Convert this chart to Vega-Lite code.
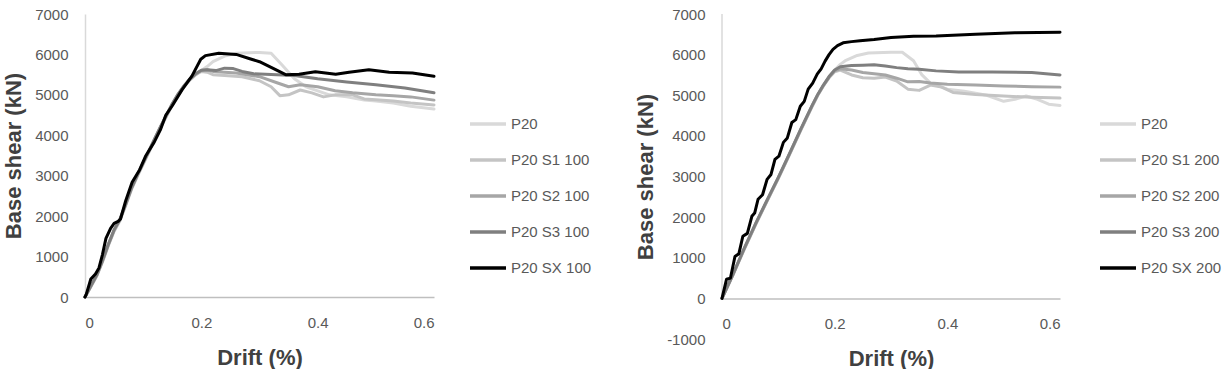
{
  "$schema": "https://vega.github.io/schema/vega-lite/v6.json",
  "background": "white",
  "padding": {"left": 2, "top": 7, "right": 0, "bottom": 0},
  "config": {
    "view": {"stroke": null},
    "font": "Liberation Sans",
    "concat": {"spacing": 42},
    "axis": {"grid": false, "ticks": false, "labelColor": "#595959", "labelFontSize": 15, "titleColor": "#404040", "titleFontSize": 22, "titleFontWeight": "bold", "domainWidth": 1.5},
    "axisX": {"domainColor": "#bfbfbf", "labelPadding": 18, "titlePadding": 17},
    "axisY": {"domainColor": "#d9d9d9", "labelPadding": 17, "titlePadding": 9},
    "legend": {"symbolType": "M-2,0H2", "symbolSize": 324, "symbolStrokeWidth": 3.5, "labelFontSize": 15, "labelColor": "#595959", "labelOffset": 12, "rowPadding": 17, "padding": 0}
  },
  "datasets": {
    "left": [
      {"series": "P20", "drift": 0, "shear": 0}, {"series": "P20", "drift": 0.01, "shear": 250}, {"series": "P20", "drift": 0.02, "shear": 510}, {"series": "P20", "drift": 0.03, "shear": 860}, {"series": "P20", "drift": 0.04, "shear": 1260}, {"series": "P20", "drift": 0.05, "shear": 1620}, {"series": "P20", "drift": 0.06, "shear": 1880}, {"series": "P20", "drift": 0.07, "shear": 2260}, {"series": "P20", "drift": 0.08, "shear": 2660}, {"series": "P20", "drift": 0.09, "shear": 2980}, {"series": "P20", "drift": 0.1, "shear": 3280}, {"series": "P20", "drift": 0.11, "shear": 3580}, {"series": "P20", "drift": 0.12, "shear": 3880}, {"series": "P20", "drift": 0.13, "shear": 4180}, {"series": "P20", "drift": 0.14, "shear": 4460}, {"series": "P20", "drift": 0.15, "shear": 4740}, {"series": "P20", "drift": 0.16, "shear": 4980}, {"series": "P20", "drift": 0.17, "shear": 5190}, {"series": "P20", "drift": 0.18, "shear": 5360}, {"series": "P20", "drift": 0.19, "shear": 5490}, {"series": "P20", "drift": 0.2, "shear": 5600}, {"series": "P20", "drift": 0.21, "shear": 5700}, {"series": "P20", "drift": 0.22, "shear": 5820}, {"series": "P20", "drift": 0.24, "shear": 5960}, {"series": "P20", "drift": 0.26, "shear": 6030}, {"series": "P20", "drift": 0.3, "shear": 6050}, {"series": "P20", "drift": 0.32, "shear": 6030}, {"series": "P20", "drift": 0.34, "shear": 5720}, {"series": "P20", "drift": 0.36, "shear": 5400}, {"series": "P20", "drift": 0.38, "shear": 5200}, {"series": "P20", "drift": 0.4, "shear": 5100}, {"series": "P20", "drift": 0.42, "shear": 5000}, {"series": "P20", "drift": 0.45, "shear": 4950}, {"series": "P20", "drift": 0.48, "shear": 4870}, {"series": "P20", "drift": 0.5, "shear": 4850}, {"series": "P20", "drift": 0.53, "shear": 4800}, {"series": "P20", "drift": 0.56, "shear": 4720}, {"series": "P20", "drift": 0.6, "shear": 4650},

      {"series": "P20 S1 100", "drift": 0, "shear": 0}, {"series": "P20 S1 100", "drift": 0.01, "shear": 260}, {"series": "P20 S1 100", "drift": 0.02, "shear": 520}, {"series": "P20 S1 100", "drift": 0.03, "shear": 880}, {"series": "P20 S1 100", "drift": 0.04, "shear": 1280}, {"series": "P20 S1 100", "drift": 0.05, "shear": 1640}, {"series": "P20 S1 100", "drift": 0.06, "shear": 1900}, {"series": "P20 S1 100", "drift": 0.07, "shear": 2280}, {"series": "P20 S1 100", "drift": 0.08, "shear": 2680}, {"series": "P20 S1 100", "drift": 0.09, "shear": 3000}, {"series": "P20 S1 100", "drift": 0.1, "shear": 3300}, {"series": "P20 S1 100", "drift": 0.11, "shear": 3600}, {"series": "P20 S1 100", "drift": 0.12, "shear": 3900}, {"series": "P20 S1 100", "drift": 0.13, "shear": 4200}, {"series": "P20 S1 100", "drift": 0.14, "shear": 4480}, {"series": "P20 S1 100", "drift": 0.15, "shear": 4760}, {"series": "P20 S1 100", "drift": 0.16, "shear": 5000}, {"series": "P20 S1 100", "drift": 0.17, "shear": 5200}, {"series": "P20 S1 100", "drift": 0.18, "shear": 5370}, {"series": "P20 S1 100", "drift": 0.19, "shear": 5500}, {"series": "P20 S1 100", "drift": 0.2, "shear": 5580}, {"series": "P20 S1 100", "drift": 0.21, "shear": 5560}, {"series": "P20 S1 100", "drift": 0.22, "shear": 5500}, {"series": "P20 S1 100", "drift": 0.24, "shear": 5480}, {"series": "P20 S1 100", "drift": 0.27, "shear": 5450}, {"series": "P20 S1 100", "drift": 0.3, "shear": 5350}, {"series": "P20 S1 100", "drift": 0.32, "shear": 5200}, {"series": "P20 S1 100", "drift": 0.335, "shear": 4980}, {"series": "P20 S1 100", "drift": 0.35, "shear": 5000}, {"series": "P20 S1 100", "drift": 0.37, "shear": 5120}, {"series": "P20 S1 100", "drift": 0.39, "shear": 5050}, {"series": "P20 S1 100", "drift": 0.41, "shear": 4950}, {"series": "P20 S1 100", "drift": 0.43, "shear": 5000}, {"series": "P20 S1 100", "drift": 0.46, "shear": 5000}, {"series": "P20 S1 100", "drift": 0.48, "shear": 4900}, {"series": "P20 S1 100", "drift": 0.5, "shear": 4880}, {"series": "P20 S1 100", "drift": 0.53, "shear": 4850}, {"series": "P20 S1 100", "drift": 0.56, "shear": 4800}, {"series": "P20 S1 100", "drift": 0.6, "shear": 4750},

      {"series": "P20 S2 100", "drift": 0, "shear": 0}, {"series": "P20 S2 100", "drift": 0.01, "shear": 270}, {"series": "P20 S2 100", "drift": 0.02, "shear": 530}, {"series": "P20 S2 100", "drift": 0.03, "shear": 890}, {"series": "P20 S2 100", "drift": 0.04, "shear": 1290}, {"series": "P20 S2 100", "drift": 0.05, "shear": 1650}, {"series": "P20 S2 100", "drift": 0.06, "shear": 1910}, {"series": "P20 S2 100", "drift": 0.07, "shear": 2290}, {"series": "P20 S2 100", "drift": 0.08, "shear": 2690}, {"series": "P20 S2 100", "drift": 0.09, "shear": 3010}, {"series": "P20 S2 100", "drift": 0.1, "shear": 3310}, {"series": "P20 S2 100", "drift": 0.11, "shear": 3610}, {"series": "P20 S2 100", "drift": 0.12, "shear": 3910}, {"series": "P20 S2 100", "drift": 0.13, "shear": 4210}, {"series": "P20 S2 100", "drift": 0.14, "shear": 4490}, {"series": "P20 S2 100", "drift": 0.15, "shear": 4770}, {"series": "P20 S2 100", "drift": 0.16, "shear": 5010}, {"series": "P20 S2 100", "drift": 0.17, "shear": 5210}, {"series": "P20 S2 100", "drift": 0.18, "shear": 5380}, {"series": "P20 S2 100", "drift": 0.19, "shear": 5510}, {"series": "P20 S2 100", "drift": 0.2, "shear": 5600}, {"series": "P20 S2 100", "drift": 0.21, "shear": 5620}, {"series": "P20 S2 100", "drift": 0.22, "shear": 5580}, {"series": "P20 S2 100", "drift": 0.24, "shear": 5560}, {"series": "P20 S2 100", "drift": 0.26, "shear": 5540}, {"series": "P20 S2 100", "drift": 0.3, "shear": 5450}, {"series": "P20 S2 100", "drift": 0.33, "shear": 5300}, {"series": "P20 S2 100", "drift": 0.35, "shear": 5200}, {"series": "P20 S2 100", "drift": 0.37, "shear": 5250}, {"series": "P20 S2 100", "drift": 0.4, "shear": 5200}, {"series": "P20 S2 100", "drift": 0.43, "shear": 5100}, {"series": "P20 S2 100", "drift": 0.46, "shear": 5050}, {"series": "P20 S2 100", "drift": 0.5, "shear": 5000}, {"series": "P20 S2 100", "drift": 0.53, "shear": 4980}, {"series": "P20 S2 100", "drift": 0.56, "shear": 4950}, {"series": "P20 S2 100", "drift": 0.6, "shear": 4870},

      {"series": "P20 S3 100", "drift": 0, "shear": 0}, {"series": "P20 S3 100", "drift": 0.01, "shear": 270}, {"series": "P20 S3 100", "drift": 0.02, "shear": 540}, {"series": "P20 S3 100", "drift": 0.03, "shear": 900}, {"series": "P20 S3 100", "drift": 0.04, "shear": 1300}, {"series": "P20 S3 100", "drift": 0.05, "shear": 1660}, {"series": "P20 S3 100", "drift": 0.06, "shear": 1920}, {"series": "P20 S3 100", "drift": 0.07, "shear": 2300}, {"series": "P20 S3 100", "drift": 0.08, "shear": 2700}, {"series": "P20 S3 100", "drift": 0.09, "shear": 3020}, {"series": "P20 S3 100", "drift": 0.1, "shear": 3320}, {"series": "P20 S3 100", "drift": 0.11, "shear": 3620}, {"series": "P20 S3 100", "drift": 0.12, "shear": 3920}, {"series": "P20 S3 100", "drift": 0.13, "shear": 4220}, {"series": "P20 S3 100", "drift": 0.14, "shear": 4500}, {"series": "P20 S3 100", "drift": 0.15, "shear": 4780}, {"series": "P20 S3 100", "drift": 0.16, "shear": 5020}, {"series": "P20 S3 100", "drift": 0.17, "shear": 5220}, {"series": "P20 S3 100", "drift": 0.18, "shear": 5390}, {"series": "P20 S3 100", "drift": 0.19, "shear": 5520}, {"series": "P20 S3 100", "drift": 0.2, "shear": 5610}, {"series": "P20 S3 100", "drift": 0.21, "shear": 5620}, {"series": "P20 S3 100", "drift": 0.225, "shear": 5600}, {"series": "P20 S3 100", "drift": 0.24, "shear": 5660}, {"series": "P20 S3 100", "drift": 0.255, "shear": 5650}, {"series": "P20 S3 100", "drift": 0.27, "shear": 5580}, {"series": "P20 S3 100", "drift": 0.29, "shear": 5520}, {"series": "P20 S3 100", "drift": 0.33, "shear": 5500}, {"series": "P20 S3 100", "drift": 0.36, "shear": 5480}, {"series": "P20 S3 100", "drift": 0.4, "shear": 5400}, {"series": "P20 S3 100", "drift": 0.45, "shear": 5320}, {"series": "P20 S3 100", "drift": 0.5, "shear": 5250}, {"series": "P20 S3 100", "drift": 0.55, "shear": 5170}, {"series": "P20 S3 100", "drift": 0.6, "shear": 5050},

      {"series": "P20 SX 100", "drift": 0, "shear": 0}, {"series": "P20 SX 100", "drift": 0.002, "shear": 60}, {"series": "P20 SX 100", "drift": 0.01, "shear": 445}, {"series": "P20 SX 100", "drift": 0.018, "shear": 570}, {"series": "P20 SX 100", "drift": 0.024, "shear": 720}, {"series": "P20 SX 100", "drift": 0.03, "shear": 1050}, {"series": "P20 SX 100", "drift": 0.036, "shear": 1450}, {"series": "P20 SX 100", "drift": 0.044, "shear": 1700}, {"series": "P20 SX 100", "drift": 0.05, "shear": 1820}, {"series": "P20 SX 100", "drift": 0.057, "shear": 1870}, {"series": "P20 SX 100", "drift": 0.061, "shear": 1930}, {"series": "P20 SX 100", "drift": 0.07, "shear": 2380}, {"series": "P20 SX 100", "drift": 0.081, "shear": 2840}, {"series": "P20 SX 100", "drift": 0.094, "shear": 3150}, {"series": "P20 SX 100", "drift": 0.104, "shear": 3480}, {"series": "P20 SX 100", "drift": 0.119, "shear": 3830}, {"series": "P20 SX 100", "drift": 0.13, "shear": 4150}, {"series": "P20 SX 100", "drift": 0.139, "shear": 4500}, {"series": "P20 SX 100", "drift": 0.15, "shear": 4730}, {"series": "P20 SX 100", "drift": 0.167, "shear": 5130}, {"series": "P20 SX 100", "drift": 0.184, "shear": 5470}, {"series": "P20 SX 100", "drift": 0.199, "shear": 5880}, {"series": "P20 SX 100", "drift": 0.207, "shear": 5970}, {"series": "P20 SX 100", "drift": 0.23, "shear": 6030}, {"series": "P20 SX 100", "drift": 0.26, "shear": 6000}, {"series": "P20 SX 100", "drift": 0.282, "shear": 5900}, {"series": "P20 SX 100", "drift": 0.3, "shear": 5820}, {"series": "P20 SX 100", "drift": 0.32, "shear": 5680}, {"series": "P20 SX 100", "drift": 0.345, "shear": 5500}, {"series": "P20 SX 100", "drift": 0.368, "shear": 5510}, {"series": "P20 SX 100", "drift": 0.396, "shear": 5570}, {"series": "P20 SX 100", "drift": 0.431, "shear": 5510}, {"series": "P20 SX 100", "drift": 0.454, "shear": 5560}, {"series": "P20 SX 100", "drift": 0.488, "shear": 5620}, {"series": "P20 SX 100", "drift": 0.523, "shear": 5560}, {"series": "P20 SX 100", "drift": 0.563, "shear": 5540}, {"series": "P20 SX 100", "drift": 0.6, "shear": 5460}
    ],
    "right": [
      {"series": "P20", "drift": 0, "shear": 0}, {"series": "P20", "drift": 0.02, "shear": 590}, {"series": "P20", "drift": 0.04, "shear": 1220}, {"series": "P20", "drift": 0.06, "shear": 1820}, {"series": "P20", "drift": 0.08, "shear": 2390}, {"series": "P20", "drift": 0.1, "shear": 2950}, {"series": "P20", "drift": 0.12, "shear": 3540}, {"series": "P20", "drift": 0.14, "shear": 4140}, {"series": "P20", "drift": 0.16, "shear": 4720}, {"series": "P20", "drift": 0.17, "shear": 5000}, {"series": "P20", "drift": 0.18, "shear": 5240}, {"series": "P20", "drift": 0.19, "shear": 5450}, {"series": "P20", "drift": 0.2, "shear": 5620}, {"series": "P20", "drift": 0.21, "shear": 5760}, {"series": "P20", "drift": 0.22, "shear": 5860}, {"series": "P20", "drift": 0.24, "shear": 5980}, {"series": "P20", "drift": 0.26, "shear": 6040}, {"series": "P20", "drift": 0.3, "shear": 6060}, {"series": "P20", "drift": 0.32, "shear": 6060}, {"series": "P20", "drift": 0.34, "shear": 5850}, {"series": "P20", "drift": 0.355, "shear": 5500}, {"series": "P20", "drift": 0.37, "shear": 5300}, {"series": "P20", "drift": 0.4, "shear": 5150}, {"series": "P20", "drift": 0.43, "shear": 5100}, {"series": "P20", "drift": 0.47, "shear": 5000}, {"series": "P20", "drift": 0.5, "shear": 4850}, {"series": "P20", "drift": 0.52, "shear": 4900}, {"series": "P20", "drift": 0.54, "shear": 4980}, {"series": "P20", "drift": 0.56, "shear": 4900}, {"series": "P20", "drift": 0.58, "shear": 4780}, {"series": "P20", "drift": 0.6, "shear": 4750},

      {"series": "P20 S1 200", "drift": 0, "shear": 0}, {"series": "P20 S1 200", "drift": 0.02, "shear": 600}, {"series": "P20 S1 200", "drift": 0.04, "shear": 1230}, {"series": "P20 S1 200", "drift": 0.06, "shear": 1830}, {"series": "P20 S1 200", "drift": 0.08, "shear": 2400}, {"series": "P20 S1 200", "drift": 0.1, "shear": 2960}, {"series": "P20 S1 200", "drift": 0.12, "shear": 3550}, {"series": "P20 S1 200", "drift": 0.14, "shear": 4150}, {"series": "P20 S1 200", "drift": 0.16, "shear": 4730}, {"series": "P20 S1 200", "drift": 0.17, "shear": 5000}, {"series": "P20 S1 200", "drift": 0.18, "shear": 5230}, {"series": "P20 S1 200", "drift": 0.19, "shear": 5430}, {"series": "P20 S1 200", "drift": 0.2, "shear": 5580}, {"series": "P20 S1 200", "drift": 0.21, "shear": 5620}, {"series": "P20 S1 200", "drift": 0.23, "shear": 5500}, {"series": "P20 S1 200", "drift": 0.25, "shear": 5430}, {"series": "P20 S1 200", "drift": 0.27, "shear": 5420}, {"series": "P20 S1 200", "drift": 0.29, "shear": 5450}, {"series": "P20 S1 200", "drift": 0.31, "shear": 5350}, {"series": "P20 S1 200", "drift": 0.33, "shear": 5150}, {"series": "P20 S1 200", "drift": 0.35, "shear": 5120}, {"series": "P20 S1 200", "drift": 0.37, "shear": 5250}, {"series": "P20 S1 200", "drift": 0.39, "shear": 5200}, {"series": "P20 S1 200", "drift": 0.41, "shear": 5070}, {"series": "P20 S1 200", "drift": 0.45, "shear": 5020}, {"series": "P20 S1 200", "drift": 0.5, "shear": 4980}, {"series": "P20 S1 200", "drift": 0.55, "shear": 4950}, {"series": "P20 S1 200", "drift": 0.6, "shear": 4930},

      {"series": "P20 S2 200", "drift": 0, "shear": 0}, {"series": "P20 S2 200", "drift": 0.02, "shear": 600}, {"series": "P20 S2 200", "drift": 0.04, "shear": 1240}, {"series": "P20 S2 200", "drift": 0.06, "shear": 1840}, {"series": "P20 S2 200", "drift": 0.08, "shear": 2410}, {"series": "P20 S2 200", "drift": 0.1, "shear": 2970}, {"series": "P20 S2 200", "drift": 0.12, "shear": 3560}, {"series": "P20 S2 200", "drift": 0.14, "shear": 4160}, {"series": "P20 S2 200", "drift": 0.16, "shear": 4740}, {"series": "P20 S2 200", "drift": 0.17, "shear": 5010}, {"series": "P20 S2 200", "drift": 0.18, "shear": 5240}, {"series": "P20 S2 200", "drift": 0.19, "shear": 5440}, {"series": "P20 S2 200", "drift": 0.2, "shear": 5600}, {"series": "P20 S2 200", "drift": 0.21, "shear": 5650}, {"series": "P20 S2 200", "drift": 0.23, "shear": 5620}, {"series": "P20 S2 200", "drift": 0.25, "shear": 5560}, {"series": "P20 S2 200", "drift": 0.27, "shear": 5530}, {"series": "P20 S2 200", "drift": 0.29, "shear": 5500}, {"series": "P20 S2 200", "drift": 0.31, "shear": 5420}, {"series": "P20 S2 200", "drift": 0.33, "shear": 5330}, {"series": "P20 S2 200", "drift": 0.35, "shear": 5340}, {"series": "P20 S2 200", "drift": 0.37, "shear": 5300}, {"series": "P20 S2 200", "drift": 0.4, "shear": 5270}, {"series": "P20 S2 200", "drift": 0.45, "shear": 5250}, {"series": "P20 S2 200", "drift": 0.5, "shear": 5230}, {"series": "P20 S2 200", "drift": 0.55, "shear": 5210}, {"series": "P20 S2 200", "drift": 0.6, "shear": 5200},

      {"series": "P20 S3 200", "drift": 0, "shear": 0}, {"series": "P20 S3 200", "drift": 0.02, "shear": 610}, {"series": "P20 S3 200", "drift": 0.04, "shear": 1250}, {"series": "P20 S3 200", "drift": 0.06, "shear": 1850}, {"series": "P20 S3 200", "drift": 0.08, "shear": 2420}, {"series": "P20 S3 200", "drift": 0.1, "shear": 2980}, {"series": "P20 S3 200", "drift": 0.12, "shear": 3570}, {"series": "P20 S3 200", "drift": 0.14, "shear": 4170}, {"series": "P20 S3 200", "drift": 0.16, "shear": 4750}, {"series": "P20 S3 200", "drift": 0.17, "shear": 5020}, {"series": "P20 S3 200", "drift": 0.18, "shear": 5250}, {"series": "P20 S3 200", "drift": 0.19, "shear": 5460}, {"series": "P20 S3 200", "drift": 0.2, "shear": 5620}, {"series": "P20 S3 200", "drift": 0.21, "shear": 5700}, {"series": "P20 S3 200", "drift": 0.23, "shear": 5730}, {"series": "P20 S3 200", "drift": 0.25, "shear": 5740}, {"series": "P20 S3 200", "drift": 0.27, "shear": 5750}, {"series": "P20 S3 200", "drift": 0.29, "shear": 5720}, {"series": "P20 S3 200", "drift": 0.31, "shear": 5680}, {"series": "P20 S3 200", "drift": 0.33, "shear": 5650}, {"series": "P20 S3 200", "drift": 0.35, "shear": 5640}, {"series": "P20 S3 200", "drift": 0.38, "shear": 5600}, {"series": "P20 S3 200", "drift": 0.42, "shear": 5570}, {"series": "P20 S3 200", "drift": 0.48, "shear": 5570}, {"series": "P20 S3 200", "drift": 0.55, "shear": 5560}, {"series": "P20 S3 200", "drift": 0.6, "shear": 5500},

      {"series": "P20 SX 200", "drift": 0, "shear": 0}, {"series": "P20 SX 200", "drift": 0.008, "shear": 470}, {"series": "P20 SX 200", "drift": 0.015, "shear": 500}, {"series": "P20 SX 200", "drift": 0.023, "shear": 1030}, {"series": "P20 SX 200", "drift": 0.03, "shear": 1100}, {"series": "P20 SX 200", "drift": 0.037, "shear": 1530}, {"series": "P20 SX 200", "drift": 0.045, "shear": 1600}, {"series": "P20 SX 200", "drift": 0.053, "shear": 2020}, {"series": "P20 SX 200", "drift": 0.058, "shear": 2100}, {"series": "P20 SX 200", "drift": 0.064, "shear": 2440}, {"series": "P20 SX 200", "drift": 0.072, "shear": 2550}, {"series": "P20 SX 200", "drift": 0.08, "shear": 2930}, {"series": "P20 SX 200", "drift": 0.087, "shear": 3050}, {"series": "P20 SX 200", "drift": 0.094, "shear": 3420}, {"series": "P20 SX 200", "drift": 0.101, "shear": 3500}, {"series": "P20 SX 200", "drift": 0.109, "shear": 3840}, {"series": "P20 SX 200", "drift": 0.116, "shear": 3950}, {"series": "P20 SX 200", "drift": 0.124, "shear": 4330}, {"series": "P20 SX 200", "drift": 0.131, "shear": 4400}, {"series": "P20 SX 200", "drift": 0.139, "shear": 4730}, {"series": "P20 SX 200", "drift": 0.146, "shear": 4850}, {"series": "P20 SX 200", "drift": 0.153, "shear": 5150}, {"series": "P20 SX 200", "drift": 0.161, "shear": 5300}, {"series": "P20 SX 200", "drift": 0.169, "shear": 5520}, {"series": "P20 SX 200", "drift": 0.176, "shear": 5650}, {"series": "P20 SX 200", "drift": 0.183, "shear": 5840}, {"series": "P20 SX 200", "drift": 0.19, "shear": 6000}, {"series": "P20 SX 200", "drift": 0.197, "shear": 6130}, {"series": "P20 SX 200", "drift": 0.205, "shear": 6220}, {"series": "P20 SX 200", "drift": 0.215, "shear": 6290}, {"series": "P20 SX 200", "drift": 0.23, "shear": 6320}, {"series": "P20 SX 200", "drift": 0.245, "shear": 6340}, {"series": "P20 SX 200", "drift": 0.27, "shear": 6370}, {"series": "P20 SX 200", "drift": 0.3, "shear": 6420}, {"series": "P20 SX 200", "drift": 0.34, "shear": 6450}, {"series": "P20 SX 200", "drift": 0.38, "shear": 6460}, {"series": "P20 SX 200", "drift": 0.45, "shear": 6500}, {"series": "P20 SX 200", "drift": 0.52, "shear": 6540}, {"series": "P20 SX 200", "drift": 0.6, "shear": 6550}
    ],
    "yaxis": [{"drift": 0, "shear": 0, "shear2": 7000}]
  },
  "hconcat": [
    {
      "width": 349,
      "height": 283,
      "data": {"name": "left"},
      "mark": {"type": "line", "strokeWidth": 3, "strokeJoin": "round", "strokeCap": "round"},
      "encoding": {
        "x": {"field": "drift", "type": "quantitative", "scale": {"domain": [0, 0.6], "nice": false, "zero": false}, "axis": {"title": "Drift (%)", "values": [0, 0.2, 0.4, 0.6], "format": ".1~f"}},
        "y": {"field": "shear", "type": "quantitative", "scale": {"domain": [0, 7000], "nice": false}, "axis": {"title": "Base shear (kN)", "values": [0, 1000, 2000, 3000, 4000, 5000, 6000, 7000], "labelExpr": "'' + datum.value"}},
        "color": {"field": "series", "type": "nominal", "scale": {"domain": ["P20", "P20 S1 100", "P20 S2 100", "P20 S3 100", "P20 SX 100"], "range": ["#d9d9d9", "#c4c4c4", "#a6a6a6", "#7f7f7f", "#000000"]}, "legend": {"title": null, "orient": "none", "legendX": 392, "legendY": 99}}
      }
    },
    {
      "width": 338,
      "height": 325,
      "layer": [
        {
          "data": {"name": "yaxis"},
          "mark": {"type": "rule", "color": "#d9d9d9", "strokeWidth": 1.5},
          "encoding": {
            "x": {"field": "drift", "type": "quantitative"},
            "y": {"field": "shear", "type": "quantitative"},
            "y2": {"field": "shear2"}
          }
        },
        {
          "data": {"name": "right"},
          "mark": {"type": "line", "strokeWidth": 3, "strokeJoin": "round", "strokeCap": "round"},
          "encoding": {
            "x": {"field": "drift", "type": "quantitative", "scale": {"domain": [0, 0.6], "nice": false, "zero": false}, "axis": {"title": "Drift (%)", "values": [0, 0.2, 0.4, 0.6], "format": ".1~f", "offset": -40.625}},
            "y": {"field": "shear", "type": "quantitative", "scale": {"domain": [-1000, 7000], "nice": false}, "axis": {"title": "Base shear (kN)", "values": [-1000, 0, 1000, 2000, 3000, 4000, 5000, 6000, 7000], "labelExpr": "'' + datum.value", "domain": false}},
            "color": {"field": "series", "type": "nominal", "scale": {"domain": ["P20", "P20 S1 200", "P20 S2 200", "P20 S3 200", "P20 SX 200"], "range": ["#d9d9d9", "#c4c4c4", "#a6a6a6", "#7f7f7f", "#000000"]}, "legend": {"title": null, "orient": "none", "legendX": 385, "legendY": 99}}
          }
        }
      ]
    }
  ],
  "resolve": {"scale": {"color": "independent", "x": "independent", "y": "independent"}, "legend": {"color": "independent"}}
}
